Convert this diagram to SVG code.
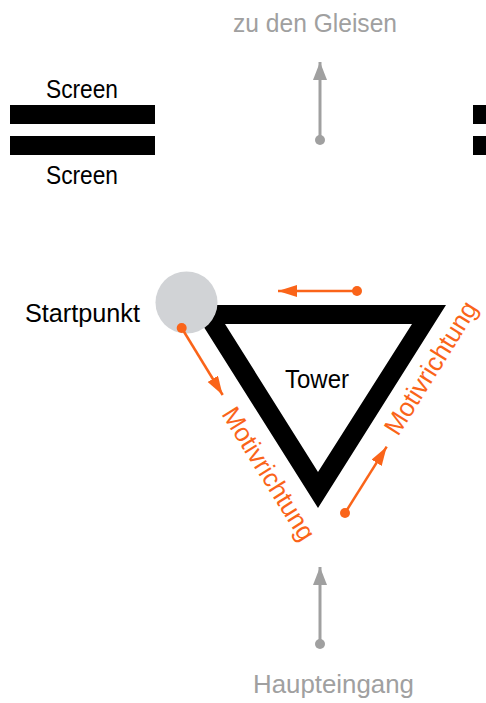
<svg xmlns="http://www.w3.org/2000/svg" width="486" height="703" viewBox="0 0 486 703">
<defs>
<style>
text{font-family:"Liberation Sans",Arial,sans-serif;font-size:26px}
.blk{fill:#000}
.gry{fill:#a0a0a0}
.org{fill:#fa6419}
.gline{stroke:#a0a0a0;stroke-width:3;fill:none}
.oline{stroke:#fa6419;stroke-width:2.5;fill:none}
</style>
<marker id="gh" markerUnits="userSpaceOnUse" markerWidth="20" markerHeight="16" refX="18" refY="7" orient="auto"><path d="M0,0 L18,7 L0,14 Z" fill="#a0a0a0"/></marker>
<marker id="oh" markerUnits="userSpaceOnUse" markerWidth="22" markerHeight="14" refX="19" refY="6" orient="auto"><path d="M0,0 L19,6 L0,12 Z" fill="#fa6419"/></marker>
</defs>
<rect width="486" height="703" fill="#fff"/>
<g id="screen-left">
<rect x="10" y="105" width="145" height="19" class="blk"/>
<rect x="10" y="136" width="145" height="19" class="blk"/>
<text x="82" y="98" text-anchor="middle" class="blk" textLength="72" lengthAdjust="spacingAndGlyphs">Screen</text>
<text x="82" y="184" text-anchor="middle" class="blk" textLength="72" lengthAdjust="spacingAndGlyphs">Screen</text>
</g>
<g id="screen-right">
<rect x="473" y="105" width="13" height="19" class="blk"/>
<rect x="473" y="136" width="13" height="19" class="blk"/>
</g>
<g id="gleise">
<text x="315" y="32" text-anchor="middle" class="gry" textLength="164" lengthAdjust="spacingAndGlyphs">zu den Gleisen</text>
</g>
<g id="haupteingang">
<text x="333.5" y="693" text-anchor="middle" class="gry" textLength="161" lengthAdjust="spacingAndGlyphs">Haupteingang</text>
</g>
<g id="tower">
<path d="M190,305 L446,305 L318,508 Z M225,324 L318,472 L412,324 Z" fill="#000" fill-rule="evenodd"/>
<text x="317" y="388" text-anchor="middle" class="blk" textLength="64" lengthAdjust="spacingAndGlyphs">Tower</text>
</g>
<g id="startpunkt">
<circle cx="186.5" cy="302.5" r="31" fill="#d1d3d6"/>
<text x="25" y="322" class="blk" textLength="115" lengthAdjust="spacingAndGlyphs">Startpunkt</text>
</g>
<g id="labels">
<text transform="translate(221,414) rotate(58)" class="org" textLength="152" lengthAdjust="spacingAndGlyphs">Motivrichtung</text>
<text transform="translate(398,437) rotate(-58)" class="org" textLength="152" lengthAdjust="spacingAndGlyphs">Motivrichtung</text>
</g>
<g id="connectors">
<line x1="320" y1="140" x2="320" y2="62" class="gline" marker-end="url(#gh)"/>
<circle cx="320" cy="140" r="5" fill="#a0a0a0"/>
<line x1="320" y1="644" x2="320" y2="567" class="gline" marker-end="url(#gh)"/>
<circle cx="320" cy="644" r="5" fill="#a0a0a0"/>
<line x1="357" y1="291" x2="278" y2="291" class="oline" marker-end="url(#oh)"/>
<circle cx="357" cy="291" r="5" fill="#fa6419"/>
<line x1="181.7" y1="328" x2="222.7" y2="395" class="oline" marker-end="url(#oh)"/>
<circle cx="181.7" cy="328" r="5" fill="#fa6419"/>
<line x1="345" y1="513" x2="386.7" y2="446.7" class="oline" marker-end="url(#oh)"/>
<circle cx="345" cy="513" r="5" fill="#fa6419"/>
</g>
</svg>
